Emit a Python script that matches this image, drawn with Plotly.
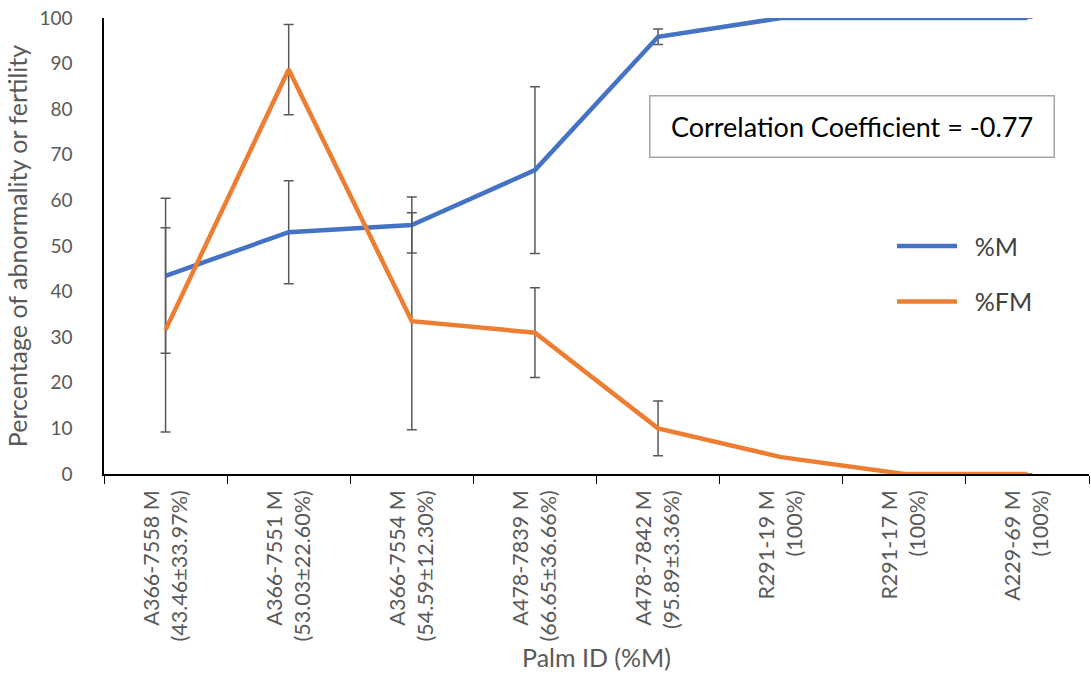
import plotly.graph_objects as go

categories = [
    "A366-7558 M<br>(43.46±33.97%)",
    "A366-7551 M<br>(53.03±22.60%)",
    "A366-7554 M<br>(54.59±12.30%)",
    "A478-7839 M<br>(66.65±36.66%)",
    "A478-7842 M<br>(95.89±3.36%)",
    "R291-19 M<br>(100%)",
    "R291-17 M<br>(100%)",
    "A229-69 M<br>(100%)",
]
pct_M = [43.46, 53.03, 54.59, 66.65, 95.89, 100, 100, 100]
err_M = [17.0, 11.3, 6.15, 18.3, 1.68, None, None, None]
pct_FM = [31.6, 88.7, 33.5, 31.0, 10.0, 3.7, 0, 0]
err_FM = [22.4, 9.9, 23.8, 9.85, 6.0, None, None, None]
y_ticks = list(range(0, 101, 10))

FONT = "Lato"
GREY = "#595959"

fig = go.Figure()
fig.add_trace(go.Scatter(
    x=categories, y=pct_M, mode="lines", name="\u00a0\u00a0%M", legendgroup="M",
    line=dict(color="#4472C4", width=4.5),
    error_y=dict(type="data", array=err_M, color=GREY, thickness=1.5, width=5),
))
fig.add_trace(go.Scatter(
    x=categories, y=pct_FM, mode="lines", name="\u00a0\u00a0%FM", legendgroup="FM",
    line=dict(color="#ED7D31", width=4.5),
    error_y=dict(type="data", array=err_FM, color=GREY, thickness=1.5, width=5),
))

fig.update_layout(
    width=1091, height=677,
    margin=dict(l=104, r=2, t=18, b=203),
    paper_bgcolor="white", plot_bgcolor="white",
    font=dict(family=FONT, color=GREY),
    legend=dict(
        x=0.8, y=0.55, xanchor="left", yanchor="top",
        font=dict(size=25, color="#404040", family=FONT),
        tracegroupgap=20, traceorder="grouped",
        bgcolor="rgba(0,0,0,0)", itemwidth=60,
    ),
    showlegend=True,
    annotations=[dict(
        text="Correlation Coefficient = -0.77",
        xref="paper", yref="paper", x=0.759, y=0.761,
        xanchor="center", yanchor="middle", showarrow=False,
        font=dict(size=27, color="black", family=FONT),
        width=375, height=32,
        bordercolor="#A6A6A6", borderwidth=1.5, borderpad=14,
        bgcolor="white",
    )],
)
fig.update_xaxes(
    type="category", range=[-0.5, len(categories) - 0.5],
    tickangle=-90, tickson="boundaries",
    ticks="outside", ticklen=8, tickcolor="black",
    showline=True, linecolor="black", linewidth=1.5,
    showgrid=False, zeroline=False, ticklabelstandoff=6,
    tickfont=dict(size=21.5, color=GREY, family=FONT),
    title=dict(text="Palm ID (%M)", font=dict(size=25, color=GREY, family=FONT), standoff=9),
)
fig.update_yaxes(
    range=[0, 100], tickvals=y_ticks,
    showline=True, linecolor="black", linewidth=1.5,
    showgrid=False, zeroline=False, ticks="", ticklabelstandoff=26,
    tickfont=dict(size=19, color=GREY, family=FONT),
    title=dict(text="Percentage of abnormality or fertility", font=dict(size=25, color=GREY, family=FONT), standoff=5),
)

fig.write_html("out.html")
